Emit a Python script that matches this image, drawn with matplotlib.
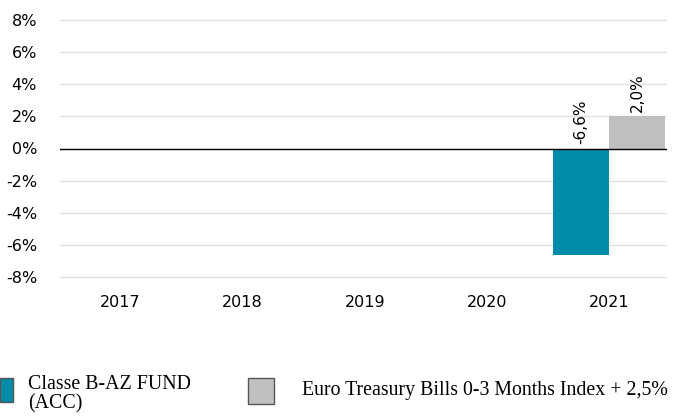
import numpy as np
import matplotlib.pyplot as plt
from matplotlib.patches import Rectangle

years = ['2017', '2018', '2019', '2020', '2021']
fund = [np.nan, np.nan, np.nan, np.nan, -6.6]
bench = [np.nan, np.nan, np.nan, np.nan, 2.0]
series_names = ['Classe B-AZ FUND\n(ACC)', 'Euro Treasury Bills 0-3 Months Index + 2,5%']
colors = ['#008ba8', '#c0c0c0']

fig = plt.figure(figsize=(6.85, 4.17), dpi=100)
pu = 257 / 16.0
ext = 0.15
ax = fig.add_axes([60/685, 1 - (277 + ext*pu)/417, 607/685, (257 + 2*ext*pu)/417])

x = np.arange(len(years))
w = 0.46
for off, vals, c in [(-w/2, fund, colors[0]), (w/2, bench, colors[1])]:
    ax.bar(x + off, vals, w, color=c, zorder=2)
    for xi, v in zip(x + off, vals):
        if not np.isnan(v):
            ax.text(xi, max(v, 0) + 0.3, ('%.1f%%' % v).replace('.', ','),
                    rotation=90, ha='center', va='bottom', fontsize=11)

ax.set_xlim(-0.496, 4.474)
ax.set_ylim(-8 - ext, 8 + ext)
ax.set_yticks(np.arange(-8, 9, 2))
ax.set_yticklabels(['%d%%' % t for t in range(-8, 9, 2)])
ax.set_xticks(x)
ax.set_xticklabels(years)
ax.tick_params(length=0, labelsize=11.5)
ax.tick_params(axis='y', pad=16.5)
ax.tick_params(axis='x', pad=11)
ax.grid(axis='y', color='#e0e0e0', lw=1, zorder=0)
ax.axhline(0, color='black', lw=1, zorder=3)
for s in ax.spines.values():
    s.set_visible(False)

# legend
sq = [(0, 378, 13, 24), (248, 378, 26, 26)]
tx = [(28, 394), (302, 391)]
for (x0, y0, sw, sh), (tx0, ty0), c, name in zip(sq, tx, colors, series_names):
    fig.patches.append(Rectangle((x0/685, 1 - (y0 + sh)/417), sw/685, sh/417,
                                 transform=fig.transFigure, facecolor=c,
                                 edgecolor='#555555', lw=1))
    fig.text(tx0/685, 1 - ty0/417, name, fontsize=14.3, family='Liberation Serif',
             va='center', ha='left', linespacing=1.05)

fig.savefig('out.png', dpi=100)
